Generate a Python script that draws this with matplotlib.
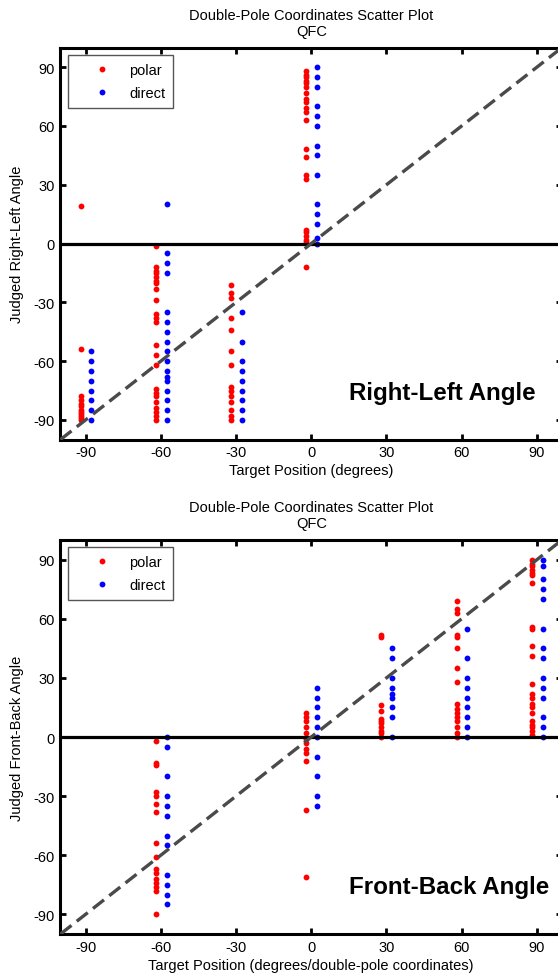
import matplotlib
matplotlib.use("Agg")
import matplotlib.pyplot as plt

plt.rcParams['font.family'] = ['Liberation Sans', 'DejaVu Sans']
plt.rcParams['axes.unicode_minus'] = False

# Right-Left angle responses, grouped by target position
rl_targets = [-90, -60, -30, 0]
rl_polar = [
    [19, -54, -78, -80, -82, -83, -85, -86, -87, -88, -89, -90],
    [-1, -12, -14, -15, -17, -19, -20, -23, -29, -36, -38, -40, -52, -57,
     -62, -74, -76, -78, -81, -84, -86, -88, -90],
    [-21, -25, -28, -38, -44, -55, -62, -73, -75, -78, -81, -85, -88, -90],
    [88, 86, 85, 83, 82, 80, 77, 74, 72, 69, 67, 63, 48, 44, 35, 33,
     7, 6, 4, 2, 1, -12],
]
rl_direct = [
    [-55, -60, -65, -70, -75, -80, -85, -90],
    [20, -5, -10, -15, -35, -40, -45, -50, -55, -60, -65, -68, -70, -75,
     -80, -85, -90],
    [-35, -50, -60, -65, -70, -75, -80, -85, -90],
    [90, 85, 80, 70, 65, 60, 50, 45, 35, 20, 15, 10, 3, 0],
]

# Front-Back angle responses
fb_targets = [-60, 0, 30, 60, 90]
fb_polar = [
    [-2, -13, -14, -28, -30, -34, -38, -54, -61, -67, -69, -72, -74, -76,
     -78, -90],
    [12, 10, 8, 5, 2, -1, -3, -6, -8, -12, -37, -71],
    [52, 51, 16, 13, 9, 8, 7, 5, 3, 2, 0],
    [69, 65, 63, 52, 51, 45, 35, 28, 17, 14, 12, 10, 8, 5, 2, 0],
    [90, 88, 87, 85, 83, 82, 78, 56, 55, 46, 41, 27, 22, 20, 17, 15, 12,
     8, 6, 5, 3, 1],
]
fb_direct = [
    [0, -5, -20, -30, -35, -40, -50, -55, -70, -75, -80, -85],
    [25, 20, 15, 10, 5, 0, -10, -20, -30, -35],
    [45, 40, 30, 25, 22, 20, 15, 10, 0],
    [55, 40, 30, 25, 20, 15, 10, 5, 0],
    [90, 87, 80, 75, 70, 55, 45, 40, 30, 25, 20, 10, 5, 0],
]

ticks = [-90, -60, -30, 0, 30, 60, 90]
FS = 10.5


def panel(ax, targets, polar, direct, ylabel, xlabel, tag):
    for t, p, d in zip(targets, polar, direct):
        ax.plot([t - 2.0] * len(p), p, 'o', color='#ff0000', ms=4.2, mew=0,
                zorder=2)
        ax.plot([t + 2.3] * len(d), d, 'o', color='#0000ff', ms=4.2, mew=0,
                zorder=2)
    # legend proxies
    ax.plot([], [], 'o', color='#ff0000', ms=4.2, mew=0, label='polar')
    ax.plot([], [], 'o', color='#0000ff', ms=4.2, mew=0, label='direct')

    ax.axhline(0, color='k', lw=2.3, zorder=3)
    ax.plot([-100, 100], [-100, 100], '--', color='#4a4a4a', lw=2.4,
            dashes=(4.2, 2.0), zorder=4)

    ax.set_xlim(-100, 100)
    ax.set_ylim(-100, 100)
    ax.set_xticks(ticks)
    ax.set_yticks(ticks)
    ax.tick_params(direction='in', top=True, right=True, length=4, width=2,
                   labelsize=FS, pad=4)
    for s in ax.spines.values():
        s.set_linewidth(2.2)
    ax.set_title('Double-Pole Coordinates Scatter Plot\nQFC', fontsize=FS,
                 pad=9, linespacing=1.2)
    ax.set_xlabel(xlabel, fontsize=FS, labelpad=3)
    ax.set_ylabel(ylabel, fontsize=FS, labelpad=7)
    ax.text(15, -76, tag, fontsize=17.4, fontweight='bold', va='center')

    leg = ax.legend(loc='upper left', fontsize=FS, fancybox=False,
                    handlelength=3.6, handletextpad=0.05, borderpad=0.55,
                    labelspacing=0.6, borderaxespad=0.5, framealpha=1)
    leg.get_frame().set_edgecolor('#555555')
    leg.get_frame().set_linewidth(1.0)


fig = plt.figure(figsize=(5.58, 9.79), dpi=100)
ax1 = fig.add_axes([0.1084, 0.5500, 0.8987, 0.4004])
ax2 = fig.add_axes([0.1084, 0.0449, 0.8987, 0.4025])

panel(ax1, rl_targets, rl_polar, rl_direct, 'Judged Right-Left Angle',
      'Target Position (degrees)', 'Right-Left Angle')
panel(ax2, fb_targets, fb_polar, fb_direct, 'Judged Front-Back Angle',
      'Target Position (degrees/double-pole coordinates)', 'Front-Back Angle')

fig.savefig('out.png', dpi=100)
